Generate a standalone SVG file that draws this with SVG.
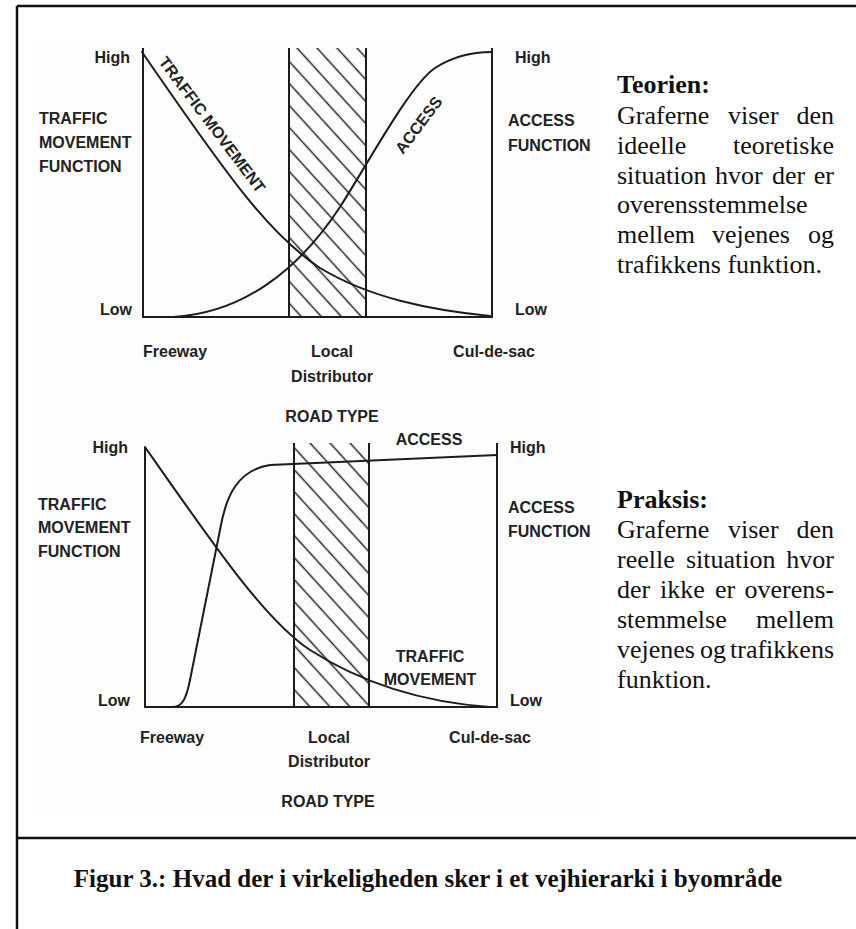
<svg xmlns="http://www.w3.org/2000/svg" width="856" height="929" viewBox="0 0 856 929">
  <style>
    .frame { stroke: #111; stroke-width: 2.5; fill: none; }
    .axis { stroke: #1c1c1c; stroke-width: 2; fill: none; }
    .curve { stroke: #1c1c1c; stroke-width: 2; fill: none; stroke-linecap: round; }
    .lbl { font-family: "Liberation Sans", Arial, sans-serif; font-weight: bold; font-size: 16px; fill: #222; }
    .mid { text-anchor: middle; }
    .end { text-anchor: end; }
    .body { font-family: "Liberation Serif", "Times New Roman", serif; font-size: 26px; fill: #111; }
    .head { font-family: "Liberation Serif", "Times New Roman", serif; font-size: 26px; font-weight: bold; fill: #111; }
    .scan { fill: #fdfdfd; }
  </style>
  <defs>
    <pattern id="hatchTop" patternUnits="userSpaceOnUse" width="40" height="14.8" patternTransform="translate(287 48) rotate(47.7)">
      <line x1="0" y1="7.4" x2="40" y2="7.4" stroke="#222" stroke-width="1.6"/>
    </pattern>
    <pattern id="hatchBottom" patternUnits="userSpaceOnUse" width="40" height="14.8" patternTransform="translate(300 443) rotate(47.7)">
      <line x1="0" y1="7.4" x2="40" y2="7.4" stroke="#222" stroke-width="1.6"/>
    </pattern>
  </defs>

  <rect width="856" height="929" fill="#fff"/>

  <!-- scanned chart backgrounds -->
  <rect class="scan" x="35" y="40" width="558" height="388"/>
  <rect class="scan" x="35" y="428" width="558" height="386"/>

  <!-- page frame -->
  <g id="frame">
    <line class="frame" x1="17" y1="6" x2="856" y2="6"/>
    <line class="frame" x1="17" y1="6" x2="17" y2="929"/>
    <line class="frame" x1="17" y1="838" x2="856" y2="838"/>
  </g>

  <!-- upper chart: theory -->
  <g id="chart-theory">
    <rect x="289" y="48" width="77" height="269" fill="url(#hatchTop)"/>
    <line class="axis" x1="289" y1="48" x2="289" y2="317"/>
    <line class="axis" x1="366" y1="48" x2="366" y2="317"/>
    <path class="axis" d="M143 48 V317 H492 V48"/>
    <g id="theory-curves">
      <path class="curve" d="M142 52 C230 180, 270 235, 320 268 C370 298, 430 310, 490 316"/>
      <path class="curve" d="M173 317 C245 313, 300 268, 340 207 C370 160, 410 85, 435 68 C455 55, 475 52, 492 52"/>
    </g>
    <text class="lbl" transform="translate(158 62) rotate(53)">TRAFFIC MOVEMENT</text>
    <text class="lbl" transform="translate(403 155) rotate(-53)">ACCESS</text>
    <text class="lbl end" x="130" y="63">High</text>
    <text class="lbl end" x="132" y="315">Low</text>
    <text class="lbl" x="39" y="124">TRAFFIC</text>
    <text class="lbl" x="39" y="148">MOVEMENT</text>
    <text class="lbl" x="39" y="172">FUNCTION</text>
    <text class="lbl" x="515" y="63">High</text>
    <text class="lbl" x="515" y="315">Low</text>
    <text class="lbl" x="508" y="126">ACCESS</text>
    <text class="lbl" x="508" y="151">FUNCTION</text>
    <text class="lbl" x="143" y="357">Freeway</text>
    <text class="lbl mid" x="332" y="357">Local</text>
    <text class="lbl mid" x="332" y="382">Distributor</text>
    <text class="lbl mid" x="494" y="357">Cul-de-sac</text>
    <text class="lbl mid" x="332" y="422">ROAD TYPE</text>
  </g>

  <!-- upper explanation -->
  <g id="text-theory">
    <text class="head" x="617" y="93">Teorien:</text>
    <text class="body" x="617" y="124">Graferne</text>
    <text class="body" x="728" y="124">viser</text>
    <text class="body end" x="834" y="124">den</text>
    <text class="body" x="617" y="154">ideelle</text>
    <text class="body end" x="834" y="154">teoretiske</text>
    <text class="body" x="617" y="184">situation</text>
    <text class="body" x="715" y="184">hvor</text>
    <text class="body" x="772" y="184">der</text>
    <text class="body end" x="834" y="184">er</text>
    <text class="body" x="617" y="213">overensstemmelse</text>
    <text class="body" x="617" y="243">mellem</text>
    <text class="body" x="712" y="243">vejenes</text>
    <text class="body end" x="834" y="243">og</text>
    <text class="body" x="617" y="273">trafikkens funktion.</text>
  </g>

  <!-- lower chart: practice -->
  <g id="chart-practice">
    <rect x="294" y="443" width="75" height="264" fill="url(#hatchBottom)"/>
    <line class="axis" x1="294" y1="443" x2="294" y2="707"/>
    <line class="axis" x1="369" y1="443" x2="369" y2="707"/>
    <path class="axis" d="M145 447 V707 H497 V443"/>
    <g id="practice-curves">
      <path class="curve" d="M172 707 C182 707, 186 700, 190 680 L220 530 C226 495, 238 470, 270 465 L497 455"/>
      <path class="curve" d="M145 447 C215 547, 265 620, 310 650 C360 682, 420 702, 490 707"/>
    </g>
    <text class="lbl mid" x="429" y="445">ACCESS</text>
    <text class="lbl mid" x="430" y="662">TRAFFIC</text>
    <text class="lbl mid" x="430" y="685">MOVEMENT</text>
    <text class="lbl end" x="128" y="453">High</text>
    <text class="lbl end" x="130" y="706">Low</text>
    <text class="lbl" x="38" y="510">TRAFFIC</text>
    <text class="lbl" x="38" y="533">MOVEMENT</text>
    <text class="lbl" x="38" y="557">FUNCTION</text>
    <text class="lbl" x="510" y="453">High</text>
    <text class="lbl" x="510" y="706">Low</text>
    <text class="lbl" x="508" y="513">ACCESS</text>
    <text class="lbl" x="508" y="537">FUNCTION</text>
    <text class="lbl" x="140" y="743">Freeway</text>
    <text class="lbl mid" x="329" y="743">Local</text>
    <text class="lbl mid" x="329" y="767">Distributor</text>
    <text class="lbl mid" x="490" y="743">Cul-de-sac</text>
    <text class="lbl mid" x="328" y="807">ROAD TYPE</text>
  </g>

  <!-- lower explanation -->
  <g id="text-practice">
    <text class="head" x="617" y="508">Praksis:</text>
    <text class="body" x="617" y="538">Graferne</text>
    <text class="body" x="728" y="538">viser</text>
    <text class="body end" x="834" y="538">den</text>
    <text class="body" x="617" y="568">reelle</text>
    <text class="body" x="686" y="568">situation</text>
    <text class="body end" x="834" y="568">hvor</text>
    <text class="body" x="617" y="598">der</text>
    <text class="body" x="660" y="598">ikke</text>
    <text class="body" x="715" y="598">er</text>
    <text class="body end" x="834" y="598">overens-</text>
    <text class="body" x="617" y="628">stemmelse</text>
    <text class="body end" x="834" y="628">mellem</text>
    <text class="body" x="617" y="658">vejenes</text>
    <text class="body" x="700" y="658">og</text>
    <text class="body end" x="834" y="658">trafikkens</text>
    <text class="body" x="617" y="688">funktion.</text>
  </g>

  <!-- caption -->
  <g id="caption">
    <text class="head mid" x="428" y="887" style="font-size:25px">Figur 3.: Hvad der i virkeligheden sker i et vejhierarki i byområde</text>
  </g>
</svg>
